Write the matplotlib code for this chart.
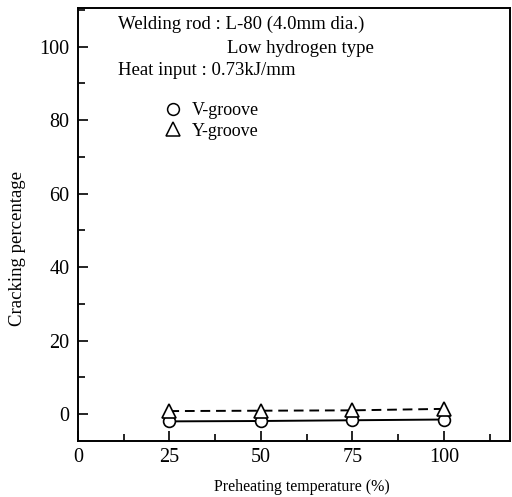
import matplotlib
matplotlib.use("Agg")
import matplotlib.pyplot as plt
from matplotlib.lines import Line2D
from matplotlib.ticker import MultipleLocator

plt.rcParams["font.family"] = ["Liberation Serif", "DejaVu Serif"]

# preheating temperature vs cracking percentage
preheat = [25, 50, 75, 100]
v_groove = [-2.0, -1.9, -1.7, -1.5]
y_groove = [0.8, 0.9, 1.0, 1.4]

x_ticks = [0, 25, 50, 75, 100]
y_ticks = [0, 20, 40, 60, 80, 100]

fig = plt.figure(figsize=(5.12, 4.97), dpi=100)
ax = fig.add_axes([0.152, 0.113, 0.844, 0.871])

ax.plot(preheat, v_groove, color="k", lw=1.4, ls="-", marker="o",
        ms=8.5, mfc="white", mec="k", mew=1.2)
ax.plot(preheat, y_groove, color="k", lw=1.4, ls=(0, (5, 3)), marker="^",
        ms=9.5, mfc="white", mec="k", mew=1.2)

ax.set_xlim(0, 118)
ax.set_ylim(-7.3, 110.5)
ax.set_xticks(x_ticks)
ax.set_yticks(y_ticks)
ax.xaxis.set_minor_locator(MultipleLocator(12.5))
ax.yaxis.set_minor_locator(MultipleLocator(10))
ax.tick_params(which="both", direction="in", labelsize=14.5, width=1.2)
ax.tick_params(which="major", length=7)
ax.tick_params(which="minor", length=5)
ax.tick_params(axis="x", pad=5)
ax.tick_params(axis="y", pad=6)
for s in ax.spines.values():
    s.set_linewidth(1.4)

# axis titles placed in figure coordinates
fig.text(302 / 512, 1 - 487 / 497, "Preheating temperature (%)",
         fontsize=11.5, ha="center", va="center")
fig.text(18 / 512, 1 - 249 / 497, "Cracking percentage",
         fontsize=13.5, ha="center", va="center", rotation=90)

ax.text(0.093, 0.982, "Welding rod : L-80 (4.0mm dia.)", transform=ax.transAxes,
        fontsize=13.5, va="top")
ax.text(0.345, 0.927, "Low hydrogen type", transform=ax.transAxes,
        fontsize=13.5, va="top")
ax.text(0.093, 0.874, "Heat input : 0.73kJ/mm", transform=ax.transAxes,
        fontsize=13.5, va="top")

handles = [
    Line2D([], [], ls="none", marker="o", ms=8.5, mfc="white", mec="k", mew=1.1),
    Line2D([], [], ls="none", marker="^", ms=9.5, mfc="white", mec="k", mew=1.1),
]
ax.legend(handles, ["V-groove", "Y-groove"], loc="upper left",
          bbox_to_anchor=(0.157, 0.82), frameon=False, fontsize=13,
          handletextpad=0.45, labelspacing=0.2, handlelength=1.2)

fig.savefig("out.png", dpi=100)
